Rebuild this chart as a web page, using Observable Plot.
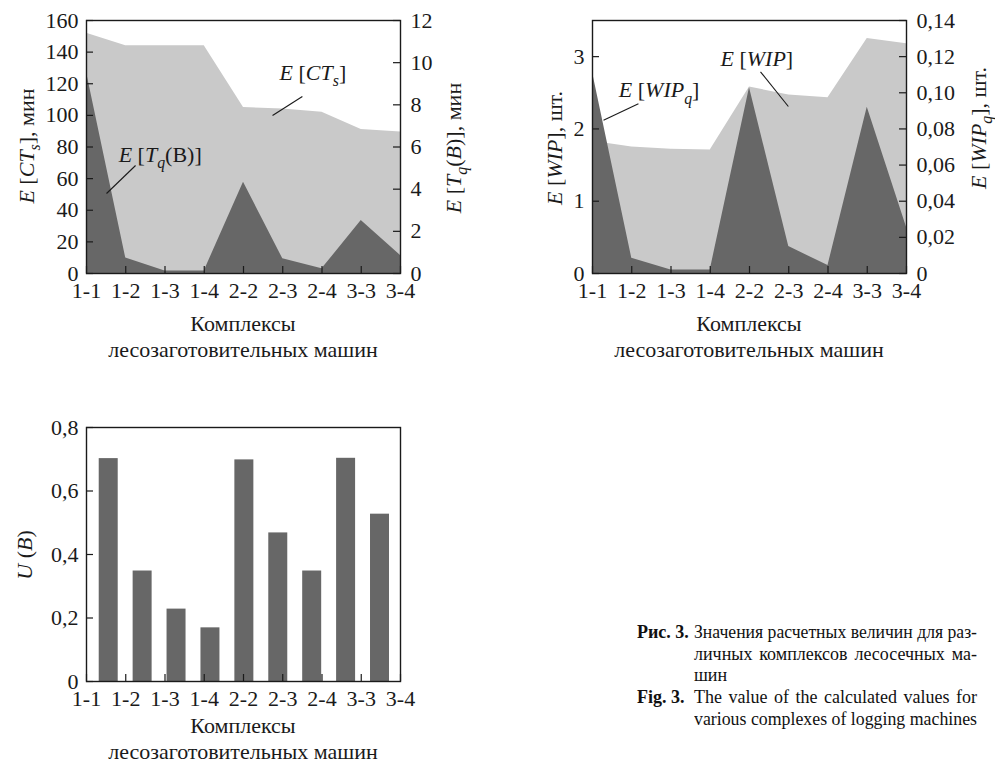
<!DOCTYPE html>
<html><head><meta charset="utf-8">
<script src="https://cdn.jsdelivr.net/npm/d3@7"></script>
<script src="https://cdn.jsdelivr.net/npm/@observablehq/plot@0.6"></script>
<style>
html,body{margin:0;padding:0;background:#fff;}
#root{position:relative;width:995px;height:766px;overflow:hidden;font-family:"Liberation Serif","Times New Roman","DejaVu Serif",serif;color:#111;}
.panel{position:absolute;}
.panel svg{overflow:visible;}
.cap,.capb{position:absolute;font-size:18px;line-height:22px;white-space:nowrap;}
.capb{font-weight:bold;}
</style></head>
<body><div id="root"></div>
<script>
// ---------- data ----------
const categories = ["1-1","1-2","1-3","1-4","2-2","2-3","2-4","3-3","3-4"];
const ctS  = [152, 144, 144, 144, 105, 104, 102, 91, 89.5];          // E[CTs], мин (left axis)
const tqB  = [9.55, 0.73, 0.12, 0.12, 4.33, 0.70, 0.22, 2.51, 0.85];  // E[Tq(B)], мин (right axis)
const wip  = [1.83, 1.75, 1.72, 1.71, 2.58, 2.47, 2.43, 3.25, 3.18];  // E[WIP], шт. (left axis)
const wipQ = [0.1114, 0.0085, 0.002, 0.002, 0.1028, 0.0149, 0.0044, 0.092, 0.0256]; // E[WIPq], шт. (right axis)
const uB   = [0.702, 0.348, 0.228, 0.169, 0.698, 0.468, 0.348, 0.703, 0.527]; // U(B)

const ticksCT  = [0,20,40,60,80,100,120,140,160];
const ticksTq  = [0,2,4,6,8,10,12];
const ticksWIP = [0,1,2,3];
const ticksWIPq= [0,0.02,0.04,0.06,0.08,0.10,0.12,0.14];
const ticksU   = [0,0.2,0.4,0.6,0.8];

const DARK = "#676767", LIGHT = "#c9c9c9", INK = "#1a1a1a";
const FS = 22;
const FONT = "'Liberation Serif', 'Times New Roman', 'DejaVu Serif', serif";
const comma = d => String(d).replace(".", ",");
const idx = d3.range(categories.length);

// ---------- helpers ----------
function rich(svg, x, y, parts, opt = {}) {
  const size = opt.size || FS, rot = opt.rotate || 0;
  const t = d3.select(svg).append("text")
    .attr("transform", `translate(${x},${y}) rotate(${rot})`)
    .attr("text-anchor", opt.anchor || "middle")
    .attr("y", size * 0.33)
    .style("font-family", FONT)
    .style("font-size", size + "px")
    .attr("fill", INK);
  let shifted = 0;
  for (const [txt, fl = ""] of parts) {
    const sp = t.append("tspan").text(txt);
    if (fl.includes("i")) sp.style("font-style", "italic");
    const wantSub = fl.includes("s");
    if (wantSub && !shifted) { sp.attr("dy", size * 0.28); shifted = size * 0.28; }
    else if (!wantSub && shifted) { sp.attr("dy", -shifted); shifted = 0; }
    if (wantSub) sp.style("font-size", (size * 0.72) + "px");
  }
  return t;
}
function lin(plot, name) {
  const s = plot.scale(name);
  return d3.scaleLinear(s.domain, s.range);
}
function panel(left, top) {
  const d = document.createElement("div");
  d.className = "panel"; d.style.left = left + "px"; d.style.top = top + "px";
  document.getElementById("root").appendChild(d);
  return d;
}
const baseStyle = {fontFamily: FONT, fontSize: FS + "px", background: "transparent", color: INK, overflow: "visible"};

function xAxisMarks() {
  return [
    Plot.ruleX(idx, {x: d => d, y1: 0, y2: 0, insetTop: -7, stroke: INK, strokeWidth: 1.2}),
    Plot.axisX(idx, {tickFormat: i => categories[i], tickSize: 0, tickPadding: 9, label: null, fontSize: FS})
  ];
}

// ---------- chart 1 : E[CTs] and E[Tq(B)] ----------
{
  const k = 160 / 12;
  const rows1 = idx.map(i => ({i, ct: ctS[i], tq: tqB[i] * k}));
  const plot = Plot.plot({
    width: 480, height: 370,
    marginLeft: 86, marginRight: 80, marginTop: 20, marginBottom: 97,
    style: baseStyle,
    x: {type: "linear", domain: [0, 8]},
    y: {domain: [0, 160]},
    marks: [
      Plot.areaY(rows1, {x: "i", y: "ct", fill: LIGHT}),
      Plot.areaY(rows1, {x: "i", y: "tq", fill: DARK}),
      Plot.link([{x1: 5.50, y1: 111.9, x2: 4.74, y2: 99.9}, {x1: 1.25, y1: 68.3, x2: 0.51, y2: 50.6}],
        {x1: "x1", y1: "y1", x2: "x2", y2: "y2", stroke: INK, strokeWidth: 1.1}),
      ...xAxisMarks(),
      Plot.ruleY(ticksCT, {y: d => d, x1: 0, x2: 0, insetRight: -7, stroke: INK, strokeWidth: 1.2}),
      Plot.ruleY(ticksTq.map(v => v * k), {y: d => d, x1: 8, x2: 8, insetLeft: -7, stroke: INK, strokeWidth: 1.2}),
      Plot.axisY(ticksCT, {anchor: "left", tickSize: 0, tickPadding: 8, label: null, fontSize: FS, tickFormat: d => String(d)}),
      Plot.axisY(ticksTq.map(v => v * k), {anchor: "right", tickSize: 0, tickPadding: 10, label: null, fontSize: FS, tickFormat: d => String(Math.round(d / k))}),
      Plot.frame({stroke: INK, strokeWidth: 1.4})
    ]
  });
  panel(0, 0).appendChild(plot);
  const sx = lin(plot, "x"), sy = lin(plot, "y");
  rich(plot, 27, 146, [["E", "i"], [" ["], ["CT", "i"], ["s", "is"], ["], мин"]], {rotate: -90});
  rich(plot, 454, 148, [["E", "i"], [" ["], ["T", "i"], ["q", "is"], ["("], ["B", "i"], [")], мин"]], {rotate: -90});
  rich(plot, 243, 324, [["Комплексы"]]);
  rich(plot, 243, 350, [["лесозаготовительных машин"]]);
  rich(plot, sx(5.78), sy(126.5), [["E", "i"], [" ["], ["CT", "i"], ["s", "is"], ["]"]]);
  rich(plot, sx(1.89), sy(74.6), [["E", "i"], [" ["], ["T", "i"], ["q", "is"], ["(B)]"]]);
}

// ---------- chart 2 : E[WIP] and E[WIPq] ----------
{
  const k = 3.5 / 0.14;
  const rows2 = idx.map(i => ({i, w: wip[i], q: wipQ[i] * k}));
  const plot = Plot.plot({
    width: 495, height: 370,
    marginLeft: 92, marginRight: 89, marginTop: 20, marginBottom: 97,
    style: baseStyle,
    x: {type: "linear", domain: [0, 8]},
    y: {domain: [0, 3.5]},
    marks: [
      Plot.areaY(rows2, {x: "i", y: "w", fill: LIGHT}),
      Plot.areaY(rows2, {x: "i", y: "q", fill: DARK}),
      Plot.link([{x1: 1.17, y1: 2.35, x2: 0.28, y2: 2.12}, {x1: 4.28, y1: 2.79, x2: 4.99, y2: 2.31}],
        {x1: "x1", y1: "y1", x2: "x2", y2: "y2", stroke: INK, strokeWidth: 1.1}),
      ...xAxisMarks(),
      Plot.ruleY(ticksWIP, {y: d => d, x1: 0, x2: 0, insetRight: -7, stroke: INK, strokeWidth: 1.2}),
      Plot.ruleY(ticksWIPq.map(v => v * k), {y: d => d, x1: 8, x2: 8, insetLeft: -7, stroke: INK, strokeWidth: 1.2}),
      Plot.axisY(ticksWIP, {anchor: "left", tickSize: 0, tickPadding: 8, label: null, fontSize: FS, tickFormat: d => String(d)}),
      Plot.axisY(ticksWIPq.map(v => v * k), {anchor: "right", tickSize: 0, tickPadding: 10, label: null, fontSize: FS,
        tickFormat: d => { const v = d / k; return v < 1e-9 ? "0" : comma(v.toFixed(2)); }}),
      Plot.frame({stroke: INK, strokeWidth: 1.4})
    ]
  });
  panel(500, 0).appendChild(plot);
  const sx = lin(plot, "x"), sy = lin(plot, "y");
  rich(plot, 55, 148, [["E", "i"], [" ["], ["WIP", "i"], ["], шт."]], {rotate: -90});
  rich(plot, 479, 128, [["E", "i"], [" ["], ["WIP", "i"], ["q", "is"], ["], шт."]], {rotate: -90});
  rich(plot, 249, 324, [["Комплексы"]]);
  rich(plot, 249, 350, [["лесозаготовительных машин"]]);
  rich(plot, sx(1.71), sy(2.53), [["E", "i"], [" ["], ["WIP", "i"], ["q", "is"], ["]"]]);
  rich(plot, sx(4.20), sy(2.97), [["E", "i"], [" ["], ["WIP", "i"], ["]"]]);
}

// ---------- chart 3 : U(B) ----------
{
  const band = d3.scaleBand(categories, [0.134, 7.91]).paddingInner(0.44).paddingOuter(0.22);
  const rows3 = categories.map((c, i) => ({c, u: uB[i]}));
  const plot = Plot.plot({
    width: 480, height: 366,
    marginLeft: 86, marginRight: 80, marginTop: 27, marginBottom: 85,
    style: baseStyle,
    x: {type: "linear", domain: [0, 8]},
    y: {domain: [0, 0.8]},
    marks: [
      Plot.rectY(rows3, {x1: d => band(d.c), x2: d => band(d.c) + band.bandwidth(), y: "u", fill: DARK}),
      ...xAxisMarks(),
      Plot.ruleY(ticksU, {y: d => d, x1: 0, x2: 0, insetRight: -7, stroke: INK, strokeWidth: 1.2}),
      Plot.axisY(ticksU, {anchor: "left", tickSize: 0, tickPadding: 8, label: null, fontSize: FS, tickFormat: d => comma(d)}),
      Plot.frame({stroke: INK, strokeWidth: 1.4})
    ]
  });
  panel(0, 400).appendChild(plot);
  rich(plot, 25, 155, [["U", "i"], [" ("], ["B", "i"], [")"]], {rotate: -90});
  rich(plot, 243, 326, [["Комплексы"]]);
  rich(plot, 243, 352, [["лесозаготовительных машин"]]);
}

// ---------- caption ----------
{
  const root = document.getElementById("root");
  const L = 637, T = 694, W = 283;
  const bold = (top, txt) => {
    const d = document.createElement("div");
    d.className = "capb"; d.style.left = L + "px"; d.style.top = top + "px";
    d.textContent = txt; root.appendChild(d);
  };
  const line = (top, txt, justify) => {
    const d = document.createElement("div");
    d.className = "cap"; d.style.left = T + "px"; d.style.top = top + "px";
    d.textContent = txt; root.appendChild(d);
    if (!justify) return;
    const w = d.getBoundingClientRect().width;
    if (w > W) {
      d.style.transformOrigin = "0 0";
      d.style.transform = `scaleX(${W / w})`;
    } else {
      d.textContent = "";
      d.style.display = "flex";
      d.style.justifyContent = "space-between";
      d.style.width = W + "px";
      for (const word of txt.split(" ")) {
        const s = document.createElement("span");
        s.textContent = word; d.appendChild(s);
      }
    }
  };
  bold(621, "Рис. 3.");
  line(621, "Значения расчетных величин для раз-", true);
  line(643, "личных комплексов лесосечных ма-", true);
  line(664, "шин", false);
  bold(686, "Fig. 3.");
  line(686, "The value of the calculated values for", true);
  line(708, "various complexes of logging machines", true);
}
</script>
</body></html>
